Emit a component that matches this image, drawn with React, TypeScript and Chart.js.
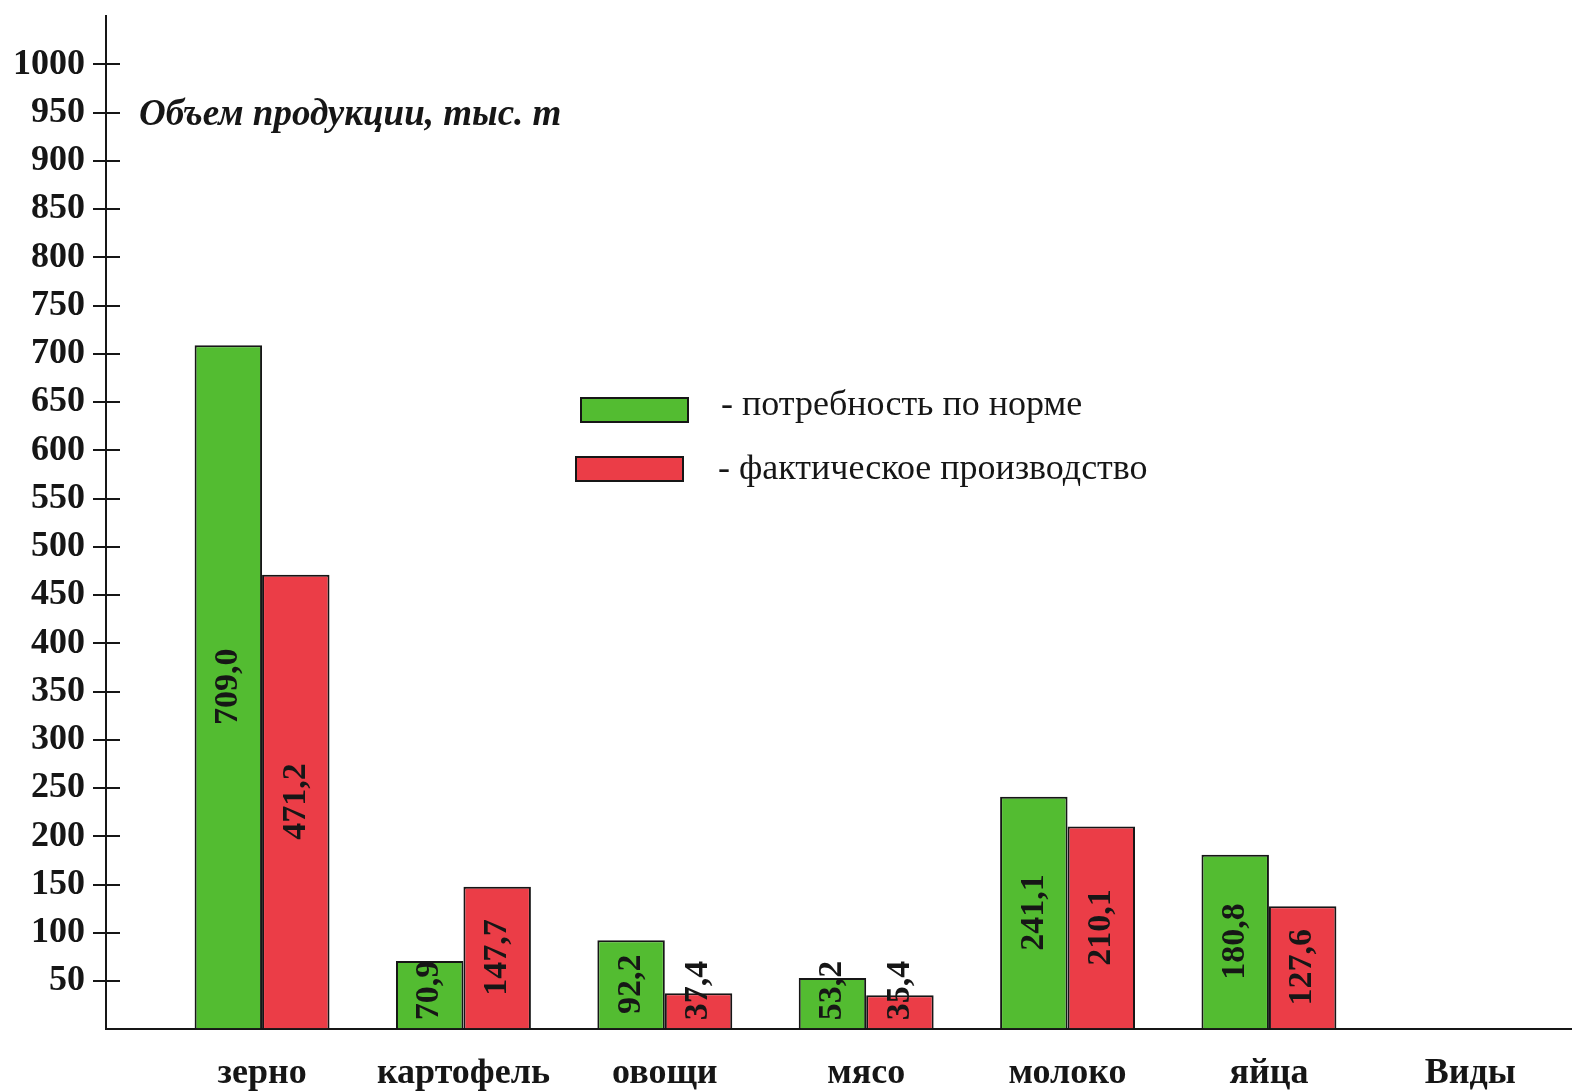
import { useEffect, useRef } from "react";
import { Chart, registerables } from "chart.js";

Chart.register(...registerables);

// Product types along the horizontal axis, plus the axis caption at its end
const categories = ["зерно", "картофель", "овощи", "мясо", "молоко", "яйца"];
const xAxisCaption = "Виды";

// Volumes, thousand tonnes
const normValues = [709.0, 70.9, 92.2, 53.2, 241.1, 180.8];
const actualValues = [471.2, 147.7, 37.4, 35.4, 210.1, 127.6];

const seriesNames = ["потребность по норме", "фактическое производство"];
const yAxisTitle = "Объем продукции, тыс. т";

const GREEN = "#53bc31";
const RED = "#eb3d47";
const INK = "#161616";
const SERIF = '"Liberation Serif", "DejaVu Serif", serif';

const xLabels = [...categories, xAxisCaption];

const fmt = (v: number) => v.toFixed(1).replace(".", ",");
const shownTick = (v: number) => v > 0 && v <= 1000;

const decorations = {
  id: "decorations",
  afterDraw(chart: any) {
    const { ctx, chartArea, scales } = chart;
    const y = scales.y;
    ctx.save();

    // inner half of the tick crosses on the vertical axis
    ctx.strokeStyle = INK;
    ctx.lineWidth = 2;
    y.ticks.forEach((t: any) => {
      if (!shownTick(t.value)) return;
      const py = Math.round(y.getPixelForValue(t.value));
      ctx.beginPath();
      ctx.moveTo(chartArea.left, py);
      ctx.lineTo(chartArea.left + 14, py);
      ctx.stroke();
    });

    // vertical axis title
    ctx.fillStyle = INK;
    ctx.font = `italic bold 37px ${SERIF}`;
    ctx.textAlign = "left";
    ctx.textBaseline = "middle";
    ctx.fillText(yAxisTitle, 139, 115);

    // legend
    const legend = [
      { color: GREEN, box: [581, 398], text: [721, 406], label: seriesNames[0] },
      { color: RED, box: [576, 457], text: [718, 470], label: seriesNames[1] },
    ];
    legend.forEach((l) => {
      ctx.fillStyle = l.color;
      ctx.fillRect(l.box[0], l.box[1], 107, 24);
      ctx.strokeStyle = INK;
      ctx.lineWidth = 2;
      ctx.strokeRect(l.box[0], l.box[1], 107, 24);
      ctx.fillStyle = INK;
      ctx.font = `36px ${SERIF}`;
      ctx.textAlign = "left";
      ctx.textBaseline = "middle";
      ctx.fillText("- " + l.label, l.text[0], l.text[1]);
    });

    // values written vertically inside the bars
    const series = [normValues, actualValues];
    ctx.font = `bold 34px ${SERIF}`;
    chart.data.datasets.forEach((_: any, di: number) => {
      const meta = chart.getDatasetMeta(di);
      meta.data.forEach((bar: any, i: number) => {
        const { x, y: top, base } = bar.getProps(["x", "y", "base"], true);
        const text = fmt(series[di][i]);
        const w = ctx.measureText(text).width;
        const cy = Math.min((top + base) / 2, base - 8 - w / 2);
        ctx.save();
        ctx.translate(x, cy);
        ctx.rotate(-Math.PI / 2);
        ctx.fillStyle = INK;
        ctx.textAlign = "center";
        ctx.textBaseline = "middle";
        ctx.fillText(text, 0, 0);
        ctx.restore();
      });
    });

    ctx.restore();
  },
};

export default function App() {
  const canvasRef = useRef<HTMLCanvasElement | null>(null);

  useEffect(() => {
    if (!canvasRef.current) return;
    const chart = new Chart(canvasRef.current, {
      type: "bar",
      data: {
        datasets: [
          {
            label: seriesNames[0],
            data: normValues.map((v, i) => ({ x: i, y: v })),
            backgroundColor: GREEN,
            borderColor: INK,
            borderWidth: 2,
            borderSkipped: "bottom",
          },
          {
            label: seriesNames[1],
            data: actualValues.map((v, i) => ({ x: i, y: v })),
            backgroundColor: RED,
            borderColor: INK,
            borderWidth: 2,
            borderSkipped: "bottom",
          },
        ],
      },
      options: {
        animation: false,
        responsive: true,
        maintainAspectRatio: false,
        layout: { padding: { left: 5, right: 8, top: 0, bottom: 12 } },
        datasets: {
          bar: { categoryPercentage: 0.67, barPercentage: 1 },
        },
        plugins: {
          legend: { display: false },
          tooltip: { enabled: false },
        },
        scales: {
          x: {
            type: "linear",
            offset: false,
            min: -0.775,
            max: 6.5,
            afterBuildTicks: (axis: any) => {
              axis.ticks = xLabels.map((_, i) => ({ value: i }));
            },
            grid: { display: false, drawTicks: false },
            border: { display: true, color: INK, width: 2 },
            ticks: {
              autoSkip: false,
              maxRotation: 0,
              padding: 24,
              color: INK,
              font: { family: SERIF, size: 36, weight: "bold", lineHeight: 1.13 },
              callback: (v: any) => xLabels[Math.round(Number(v))] ?? "",
            },
          },
          y: {
            min: 0,
            max: 1050,
            grid: {
              drawOnChartArea: false,
              drawTicks: true,
              tickLength: 13,
              color: (c: any) => (c.tick && shownTick(c.tick.value) ? INK : "rgba(0,0,0,0)"),
              lineWidth: 2,
            },
            border: { display: true, color: INK, width: 2 },
            ticks: {
              stepSize: 50,
              padding: 8,
              color: INK,
              font: { family: SERIF, size: 36, weight: "bold", lineHeight: 0.45 },
              callback: (v: any) => (shownTick(Number(v)) ? String(v) : ""),
            },
          },
        },
      },
      plugins: [decorations],
    } as any);
    return () => chart.destroy();
  }, []);

  return (
    <div
      style={{
        position: "fixed",
        left: 0,
        top: 0,
        width: 1579,
        height: 1130,
        background: "#ffffff",
      }}
    >
      <canvas ref={canvasRef} />
    </div>
  );
}
